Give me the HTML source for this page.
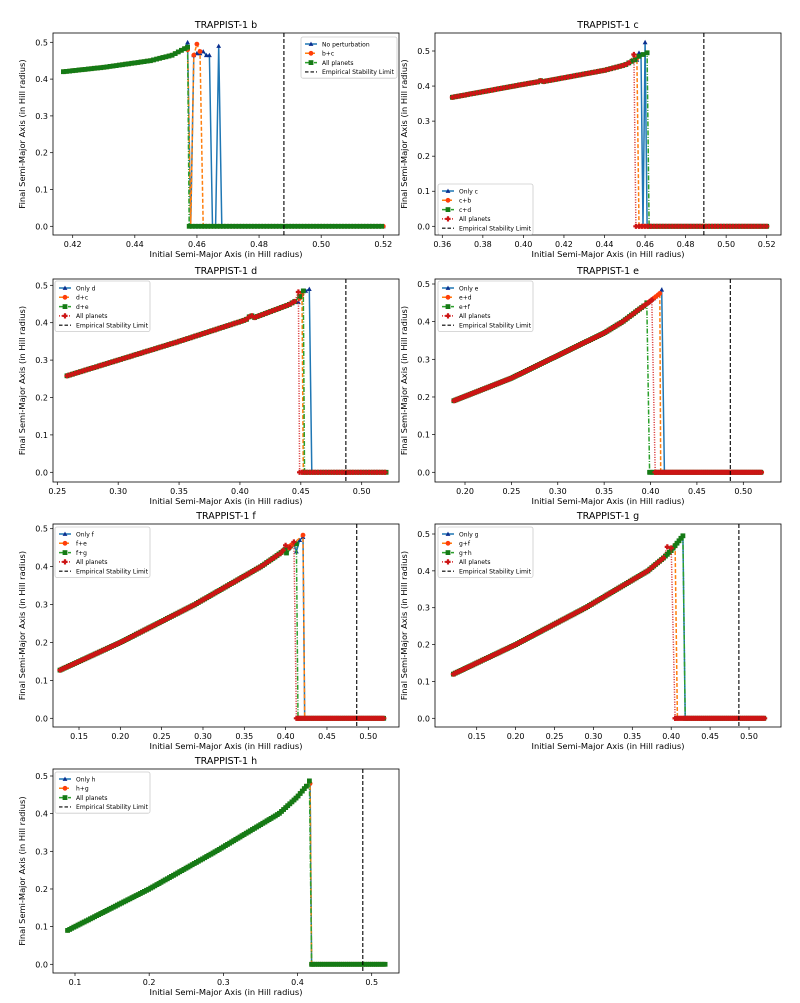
<!DOCTYPE html>
<html><head><meta charset="utf-8"><style>
html,body{margin:0;padding:0;background:#fff;}
svg{display:block;font-family:"DejaVu Sans","Liberation Sans",sans-serif;}
</style></head><body>
<svg id="s" width="800" height="1003" viewBox="0 0 800 1003" xmlns="http://www.w3.org/2000/svg"></svg>
<script>
var S=document.getElementById('s');var out='';
function interp(c,x){for(var i=0;i<c.length-1;i++){if(x<=c[i+1][0]){var t=(x-c[i][0])/(c[i+1][0]-c[i][0]);return c[i][1]+t*(c[i+1][1]-c[i][1]);}}return c[c.length-1][1];}
function series(x0,ctrl,xd,extra,zeroStart,step){
 var p=[];for(var x=x0;x<=xd+1e-9;x+=step)p.push([x,interp(ctrl,x)]);
 if(extra)extra.forEach(function(e){p.push(e)});
 for(var x=zeroStart;x<=0.5201;x+=step)p.push([x,0]);return p;}
var ST={blue:{c:'#1f77b4',m:'#0b2f8f',d:'',mk:'tri'},orange:{c:'#ff7f0e',m:'#ff3d0a',d:'4,2',mk:'cir'},green:{c:'#2ca02c',m:'#157a15',d:'5,1.5,1,1.5',mk:'sq'},red:{c:'#d62728',m:'#cc1515',d:'1,1.5',mk:'plus'}};
function marker(k,X,Y,col){X=+X;Y=+Y;var r=2.4;function f(v){return v.toFixed(1)}
 if(k=='tri')return '<polygon points="'+f(X)+','+f(Y-r)+' '+f(X-r)+','+f(Y+r*0.8)+' '+f(X+r)+','+f(Y+r*0.8)+'" fill="'+col+'"/>';
 if(k=='cir')return '<circle cx="'+f(X)+'" cy="'+f(Y)+'" r="'+r+'" fill="'+col+'"/>';
 if(k=='sq')return '<rect x="'+f(X-r)+'" y="'+f(Y-r)+'" width="'+2*r+'" height="'+2*r+'" fill="'+col+'"/>';
 return '<path d="M'+f(X-2.6)+' '+f(Y)+'h5.2M'+f(X)+' '+f(Y-2.6)+'v5.2" stroke="'+col+'" stroke-width="2.2"/>';}
function panel(o){
 var L=o.L,R=o.R,T=o.T,B=o.B;
 var fx=function(x){return o.x0p+(x-o.x0)*(o.x1p-o.x0p)/(o.x1-o.x0)};
 var fy=function(y){return o.y0p-y*(o.y0p-o.y5p)/0.5};
 out+='<defs><clipPath id="c'+o.id+'"><rect x="'+L+'" y="'+T+'" width="'+(R-L)+'" height="'+(B-T)+'"/></clipPath></defs>';
 out+='<text x="'+(L+R)/2+'" y="'+(T-5)+'" font-size="9.5" text-anchor="middle">'+o.title+'</text>';
 out+='<g clip-path="url(#c'+o.id+')">';
 o.series.forEach(function(s){var st=ST[s.st];var d='';s.p.forEach(function(q,i){d+=(i?'L':'M')+fx(q[0]).toFixed(1)+' '+fy(q[1]).toFixed(1)});
  out+='<path d="'+d+'" fill="none" stroke="'+st.c+'" stroke-width="1.5"'+(st.d?' stroke-dasharray="'+st.d+'"':'')+'/>';
  s.p.forEach(function(q){out+=marker(st.mk,fx(q[0]),fy(q[1]),st.m)});});
 out+='<line x1="'+fx(o.vl)+'" x2="'+fx(o.vl)+'" y1="'+T+'" y2="'+B+'" stroke="#000" stroke-width="1.1" stroke-dasharray="4,2"/>';
 out+='</g><rect x="'+L+'" y="'+T+'" width="'+(R-L)+'" height="'+(B-T)+'" fill="none" stroke="#000" stroke-width="0.8"/>';
 o.xt.forEach(function(t){var X=fx(t);out+='<line x1="'+X+'" x2="'+X+'" y1="'+B+'" y2="'+(B+3)+'" stroke="#000" stroke-width="0.7"/><text x="'+X+'" y="'+(B+12)+'" font-size="8" text-anchor="middle">'+o.xf(t)+'</text>';});
 [0,0.1,0.2,0.3,0.4,0.5].forEach(function(t){var Y=fy(t);out+='<line x1="'+(L-3)+'" x2="'+L+'" y1="'+Y+'" y2="'+Y+'" stroke="#000" stroke-width="0.7"/><text x="'+(L-5)+'" y="'+(Y+3)+'" font-size="8" text-anchor="end">'+t.toFixed(1)+'</text>';});
 out+='<text x="'+(L+R)/2+'" y="'+(B+22)+'" font-size="8.3" text-anchor="middle">Initial Semi-Major Axis (in Hill radius)</text>';
 out+='<text transform="translate('+(L-28)+','+(T+B)/2+') rotate(-90)" font-size="8.3" text-anchor="middle">Final Semi-Major Axis (in Hill radius)</text>';
 var lg=o.lg,n=o.labels.length+1,h=n*9.3+4;
 out+='<rect x="'+lg[0]+'" y="'+lg[1]+'" width="'+lg[2]+'" height="'+h+'" fill="#fff" fill-opacity="0.85" stroke="#ccc" stroke-width="0.8" rx="2"/>';
 o.labels.forEach(function(lb,i){var Y=lg[1]+7+i*9.3;var st=ST[o.series[i].st];
  out+='<line x1="'+(lg[0]+4)+'" x2="'+(lg[0]+16)+'" y1="'+Y+'" y2="'+Y+'" stroke="'+st.c+'" stroke-width="1.5"'+(st.d?' stroke-dasharray="'+st.d+'"':'')+'/>'+marker(st.mk,lg[0]+10,Y,st.m);
  out+='<text x="'+(lg[0]+21)+'" y="'+(Y+2.3)+'" font-size="6">'+lb+'</text>';});
 var Y=lg[1]+7+o.labels.length*9.3;
 out+='<line x1="'+(lg[0]+4)+'" x2="'+(lg[0]+16)+'" y1="'+Y+'" y2="'+Y+'" stroke="#000" stroke-width="1.1" stroke-dasharray="3.5,2"/><text x="'+(lg[0]+21)+'" y="'+(Y+2.3)+'" font-size="6" textLength="72" lengthAdjust="spacingAndGlyphs">Empirical Stability Limit</text>';
}
var f2=function(t){return t.toFixed(2)},f1=function(t){return t.toFixed(1)};
var cb=[[0.417,0.42],[0.43,0.432],[0.445,0.45],[0.452,0.465],[0.457,0.487]];
panel({id:1,title:'TRAPPIST-1 b',L:53,R:399,T:33,B:235,x0:0.42,x1:0.52,x0p:72.7,x1p:383.3,y0p:226.3,y5p:42.3,vl:0.488,
 xt:[0.42,0.44,0.46,0.48,0.50,0.52],xf:f2,lg:[301,37,96],labels:['No perturbation','b+c','All planets'],
 series:[{st:'blue',p:series(0.417,cb,0.456,[[0.457,0.5],[0.458,0],[0.459,0.465],[0.460,0.47],[0.461,0.47],[0.462,0.475],[0.463,0.465],[0.464,0.465],[0.465,0],[0.466,0],[0.467,0.49],[0.468,0]],0.469,0.001)},
  {st:'orange',p:series(0.417,cb,0.456,[[0.457,0.48],[0.458,0],[0.459,0.465],[0.460,0.495],[0.461,0.475],[0.462,0]],0.463,0.001)},
  {st:'green',p:series(0.417,cb,0.457,[[0.4575,0]],0.4585,0.001)}]});
var cc=[[0.365,0.368],[0.40,0.405],[0.407,0.412],[0.408,0.416],[0.41,0.413],[0.44,0.445],[0.45,0.46],[0.455,0.475]];
panel({id:2,title:'TRAPPIST-1 c',L:435,R:781,T:33,B:235,x0:0.36,x1:0.52,x0p:442.3,x1p:766.7,y0p:226.3,y5p:51,vl:0.489,
 xt:[0.36,0.38,0.40,0.42,0.44,0.46,0.48,0.50,0.52],xf:f2,lg:[438,184,95],labels:['Only c','c+b','c+d','All planets'],
 series:[{st:'blue',p:series(0.365,cc,0.455,[[0.456,0.475],[0.457,0.495],[0.458,0.49],[0.459,0],[0.46,0.525],[0.461,0]],0.462,0.0015)},
  {st:'orange',p:series(0.365,cc,0.455,[[0.456,0.48],[0.457,0]],0.458,0.0015)},
  {st:'green',p:series(0.365,cc,0.455,[[0.457,0.485],[0.459,0.49],[0.461,0.495],[0.462,0]],0.463,0.0015)},
  {st:'red',p:series(0.365,cc,0.453,[[0.4545,0.49],[0.4555,0]],0.457,0.0015)}]});
var cd=[[0.258,0.258],[0.35,0.35],[0.405,0.408],[0.409,0.42],[0.412,0.414],[0.44,0.448],[0.448,0.462]];
panel({id:3,title:'TRAPPIST-1 d',L:53,R:399,T:279,B:482,x0:0.25,x1:0.50,x0p:57.3,x1p:361.7,y0p:472.3,y5p:285.3,vl:0.487,
 xt:[0.25,0.30,0.35,0.40,0.45,0.50],xf:f2,lg:[55,281,95],labels:['Only d','d+c','d+e','All planets'],
 series:[{st:'blue',p:series(0.258,cd,0.446,[[0.448,0.455],[0.451,0.48],[0.454,0.485],[0.457,0.49],[0.459,0]],0.461,0.0022)},
  {st:'orange',p:series(0.258,cd,0.446,[[0.449,0.465],[0.451,0.475],[0.452,0]],0.453,0.0022)},
  {st:'green',p:series(0.258,cd,0.446,[[0.449,0.47],[0.452,0.485],[0.453,0]],0.454,0.0022)},
  {st:'red',p:series(0.258,cd,0.446,[[0.448,0.482],[0.449,0]],0.451,0.0022)}]});
var ce=[[0.188,0.19],[0.25,0.25],[0.30,0.31],[0.35,0.37],[0.37,0.4],[0.39,0.437],[0.40,0.455],[0.41,0.475]];
panel({id:4,title:'TRAPPIST-1 e',L:435,R:781,T:279,B:482,x0:0.20,x1:0.50,x0p:465,x1p:743.3,y0p:472.3,y5p:284,vl:0.486,
 xt:[0.20,0.25,0.30,0.35,0.40,0.45,0.50],xf:f2,lg:[438,281,95],labels:['Only e','e+d','e+f','All planets'],
 series:[{st:'blue',p:series(0.188,ce,0.41,[[0.412,0.485],[0.415,0]],0.416,0.0022)},
  {st:'orange',p:series(0.188,ce,0.408,[[0.41,0.475],[0.411,0]],0.412,0.0022)},
  {st:'green',p:series(0.188,ce,0.394,[[0.396,0.45],[0.399,0]],0.400,0.0022)},
  {st:'red',p:series(0.188,ce,0.403,[[0.405,0]],0.405,0.0022)}]});
var cf=[[0.127,0.127],[0.2,0.2],[0.29,0.3],[0.37,0.4],[0.39,0.43],[0.41,0.462],[0.42,0.48]];
panel({id:5,title:'TRAPPIST-1 f',L:53,R:399,T:524,B:727,x0:0.15,x1:0.50,x0p:79,x1p:368.3,y0p:718.3,y5p:528.7,vl:0.486,
 xt:[0.15,0.20,0.25,0.30,0.35,0.40,0.45,0.50],xf:f2,lg:[55,527,95],labels:['Only f','f+e','f+g','All planets'],
 series:[{st:'blue',p:series(0.127,cf,0.41,[[0.413,0.44],[0.417,0.47],[0.421,0.478],[0.423,0]],0.424,0.0025)},
  {st:'orange',p:series(0.127,cf,0.41,[[0.421,0.483],[0.423,0]],0.424,0.0025)},
  {st:'green',p:series(0.127,cf,0.40,[[0.401,0.436],[0.413,0.46],[0.415,0]],0.416,0.0025)},
  {st:'red',p:series(0.127,cf,0.39,[[0.394,0.435],[0.397,0.443],[0.40,0.456],[0.405,0.45],[0.41,0.465],[0.413,0],[0.415,0]],0.416,0.0025)}]});
var cg=[[0.12,0.12],[0.2,0.2],[0.29,0.3],[0.37,0.4],[0.39,0.435],[0.40,0.455],[0.415,0.495]];
panel({id:6,title:'TRAPPIST-1 g',L:435,R:781,T:524,B:727,x0:0.15,x1:0.50,x0p:476.7,x1p:749,y0p:718.3,y5p:534,vl:0.487,
 xt:[0.15,0.20,0.25,0.30,0.35,0.40,0.45,0.50],xf:f2,lg:[438,527,95],labels:['Only g','g+f','g+h','All planets'],
 series:[{st:'blue',p:series(0.12,cg,0.415,[[0.418,0]],0.419,0.0025)},
  {st:'orange',p:series(0.12,cg,0.403,[[0.405,0.47],[0.408,0]],0.409,0.0025)},
  {st:'green',p:series(0.12,cg,0.415,[[0.418,0]],0.419,0.0025)},
  {st:'red',p:series(0.12,cg,0.39,[[0.395,0.465],[0.40,0.462],[0.405,0]],0.405,0.0025)}]});
var ch=[[0.09,0.09],[0.2,0.2],[0.29,0.3],[0.375,0.4],[0.40,0.445],[0.415,0.48]];
panel({id:7,title:'TRAPPIST-1 h',L:53,R:399,T:769,B:973,x0:0.1,x1:0.5,x0p:75,x1p:371.7,y0p:964.3,y5p:776,vl:0.488,
 xt:[0.1,0.2,0.3,0.4,0.5],xf:f1,lg:[55,772,95],labels:['Only h','h+g','All planets'],
 series:[{st:'blue',p:series(0.09,ch,0.414,[[0.417,0.485],[0.419,0]],0.42,0.0028)},
  {st:'orange',p:series(0.09,ch,0.414,[[0.417,0.48],[0.419,0]],0.42,0.0028)},
  {st:'green',p:series(0.09,ch,0.414,[[0.416,0.487],[0.419,0]],0.42,0.0028)}]});
S.innerHTML=out;
</script>
</body></html>
